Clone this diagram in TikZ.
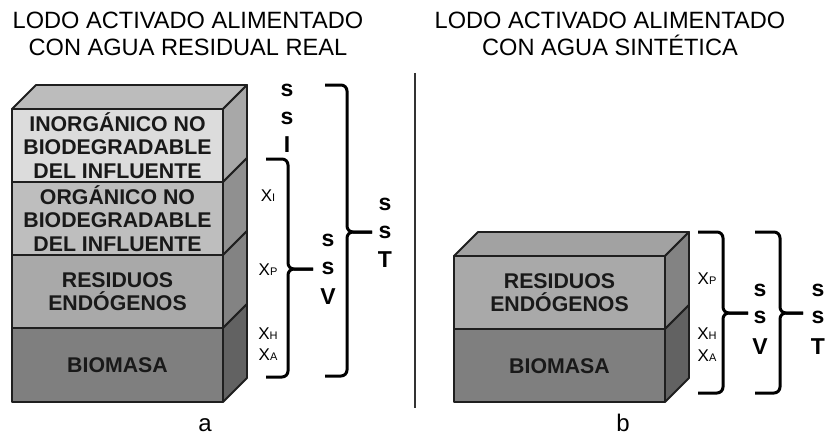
\documentclass[tikz,border=0pt]{standalone}
\usepackage{fontspec}
\setmainfont{Liberation Sans}
\begin{document}
\begin{tikzpicture}[x=1pt,y=-1pt,
  edge/.style={draw=black!88, line width=1.8pt, line join=round},
  layertext/.style={font=\fontsize{21.3}{23.3}\selectfont\bfseries, text=black!90, align=center, inner sep=0pt},
  title/.style={font=\fontsize{23.6}{27}\selectfont, align=center, inner sep=0pt},
  sym/.style={font=\fontsize{23}{23}\selectfont\bfseries, anchor=base, inner sep=0pt},
  xlab/.style={font=\fontsize{17}{17}\selectfont, anchor=base, inner sep=0pt},
  brace/.style={draw=black, line width=3pt, rounded corners=6pt},
  caption/.style={font=\fontsize{24}{24}\selectfont, inner sep=0pt, anchor=base}]
\useasboundingbox (0,0) rectangle (827,436);
\definecolor{topA}{HTML}{BCBCBC}
\definecolor{topB}{HTML}{A2A2A2}
\definecolor{f1}{HTML}{DCDCDC}\definecolor{s1}{HTML}{A8A8A8}
\definecolor{f2}{HTML}{BEBEBE}\definecolor{s2}{HTML}{909090}
\definecolor{f3}{HTML}{A9A9A9}\definecolor{s3}{HTML}{838383}
\definecolor{f4}{HTML}{7F7F7F}\definecolor{s4}{HTML}{626262}
\newcommand{\sub}[1]{{\fontsize{11}{11}\selectfont #1}}

% titles
\node[title] (t1) at (188,34) {LODO ACTIVADO ALIMENTADO\\CON AGUA RESIDUAL REAL};
\node[title] (t2) at (610,34) {LODO ACTIVADO ALIMENTADO\\CON AGUA SINTÉTICA};

% divider
\coordinate (d1) at (415,73);
\coordinate (d2) at (415,408);
\draw[black!80, line width=1.2pt] (d1) -- (d2);

% ---------- left stack ----------
\filldraw[fill=topA, edge] (12,109) -- (36,85) -- (247,85) -- (223,109) -- cycle;
\foreach \ya/\yb/\fc/\sc in {109/182/f1/s1, 182/255/f2/s2, 255/328/f3/s3, 328/402/f4/s4}{
  \filldraw[fill=\fc, edge] (12,\ya) rectangle (223,\yb);
  \filldraw[fill=\sc, edge] (223,\ya) -- (247,\ya-24) -- (247,\yb-24) -- (223,\yb) -- cycle;
}
\node[layertext] (l1) at (117.5,145.5) {INORGÁNICO NO\\BIODEGRADABLE\\DEL INFLUENTE};
\node[layertext] (l2) at (117.5,218.5) {ORGÁNICO NO\\BIODEGRADABLE\\DEL INFLUENTE};
\node[layertext] (l3) at (117.5,291.5) {RESIDUOS\\ENDÓGENOS};
\node[layertext] (l4) at (117.5,365) {BIOMASA};

% left labels
\node[xlab] (xi) at (268,201) {X\sub{I}};
\node[xlab] (xp) at (268,275) {X\sub{P}};
\node[xlab] (xh) at (268,339) {X\sub{H}};
\node[xlab] (xa) at (268,360) {X\sub{A}};

\node[sym] (ssi1) at (287,96) {s};
\node[sym] (ssi2) at (287,124) {s};
\node[sym] (ssi3) at (287,152) {I};

\node[sym] (ssv1) at (328,246) {s};
\node[sym] (ssv2) at (328,274) {s};
\node[sym] (ssv3) at (328,304) {V};

\node[sym] (sst1) at (385,210) {s};
\node[sym] (sst2) at (385,238) {s};
\node[sym] (sst3) at (385,267) {T};

% left braces
\coordinate (b1t) at (266,159); \coordinate (b1b) at (266,377); \coordinate (b1m) at (313,269);
\draw[brace] (b1t) -| (288,269) -- (b1m);
\draw[brace] (b1b) -| (288,269) -- (b1m);
\coordinate (b2t) at (325,85); \coordinate (b2b) at (325,376); \coordinate (b2m) at (372,232);
\draw[brace] (b2t) -| (347,232) -- (b2m);
\draw[brace] (b2b) -| (347,232) -- (b2m);

\node[caption] (ca) at (205,431) {a};

% ---------- right stack ----------
\filldraw[fill=topB, edge] (454,256) -- (478,232) -- (689,232) -- (665,256) -- cycle;
\foreach \ya/\yb/\fc/\sc in {256/329/f3/s3, 329/402/f4/s4}{
  \filldraw[fill=\fc, edge] (454,\ya) rectangle (665,\yb);
  \filldraw[fill=\sc, edge] (665,\ya) -- (689,\ya-24) -- (689,\yb-24) -- (665,\yb) -- cycle;
}
\node[layertext] (r3) at (559.5,292.5) {RESIDUOS\\ENDÓGENOS};
\node[layertext] (r4) at (559.5,366) {BIOMASA};

\node[xlab] (rxp) at (707,284) {X\sub{P}};
\node[xlab] (rxh) at (707,339) {X\sub{H}};
\node[xlab] (rxa) at (707,361) {X\sub{A}};

\node[sym] (rsv1) at (760,296) {s};
\node[sym] (rsv2) at (760,323) {s};
\node[sym] (rsv3) at (760,354) {V};

\node[sym] (rst1) at (818,296) {s};
\node[sym] (rst2) at (818,323) {s};
\node[sym] (rst3) at (818,354) {T};

\coordinate (b3t) at (698,232); \coordinate (b3b) at (698,393); \coordinate (b3m) at (748,313);
\draw[brace] (b3t) -| (723,313) -- (b3m);
\draw[brace] (b3b) -| (723,313) -- (b3m);
\coordinate (b4t) at (755,232); \coordinate (b4b) at (755,393); \coordinate (b4m) at (803,313);
\draw[brace] (b4t) -| (780,313) -- (b4m);
\draw[brace] (b4b) -| (780,313) -- (b4m);

\node[caption] (cb) at (623,431) {b};
\end{tikzpicture}
\end{document}
